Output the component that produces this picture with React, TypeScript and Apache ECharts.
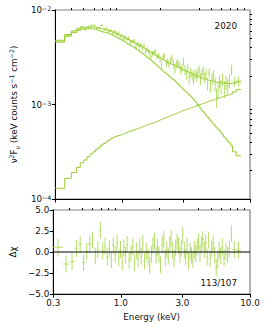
import React, { useEffect, useRef } from 'react';
import * as echarts from 'echarts';

// Energy bin edges (keV)
const binEdges = [0.30, 0.355, 0.40, 0.44, 0.47, 0.50, 0.53, 0.56, 0.59, 0.62, 0.65, 0.68, 0.71, 0.74, 0.77, 0.80, 0.83, 0.86, 0.89, 0.92, 0.95, 0.98, 1.01, 1.04, 1.07, 1.10, 1.14, 1.18, 1.22, 1.26, 1.30, 1.34, 1.38, 1.42, 1.46, 1.50, 1.55, 1.60, 1.65, 1.70, 1.75, 1.80, 1.85, 1.90, 1.95, 2.00, 2.06, 2.12, 2.18, 2.24, 2.30, 2.36, 2.42, 2.48, 2.55, 2.62, 2.69, 2.76, 2.83, 2.90, 2.98, 3.06, 3.14, 3.22, 3.30, 3.39, 3.48, 3.57, 3.66, 3.75, 3.85, 3.95, 4.05, 4.15, 4.26, 4.37, 4.48, 4.60, 4.72, 4.85, 4.98, 5.12, 5.26, 5.40, 5.55, 5.70, 5.85, 6.00, 6.20, 6.40, 6.60, 6.80, 7.05, 7.30, 7.80, 8.50];

// Models, nuF_nu in units of 1e-3 keV counts s^-1 cm^-2
const totalModel = [4.70, 5.50, 6.00, 6.30, 6.50, 6.57, 6.61, 6.61, 6.57, 6.50,
  6.40, 6.30, 6.20, 6.14, 6.05, 5.95, 5.85, 5.75, 5.63, 5.50,
  5.40, 5.30, 5.20, 5.08, 4.98, 4.88, 4.76, 4.66, 4.55, 4.45,
  4.35, 4.26, 4.15, 4.06, 3.98, 3.88, 3.78, 3.69, 3.60, 3.52,
  3.42, 3.34, 3.26, 3.19, 3.12, 3.06, 2.98, 2.91, 2.86, 2.80,
  2.75, 2.71, 2.66, 2.63, 2.59, 2.54, 2.48, 2.44, 2.40, 2.36,
  2.31, 2.28, 2.24, 2.21, 2.18, 2.15, 2.13, 2.09, 2.05, 2.02,
  1.98, 1.96, 1.93, 1.89, 1.87, 1.85, 1.83, 1.81, 1.80, 1.78,
  1.76, 1.75, 1.74, 1.72, 1.72, 1.71, 1.70, 1.69, 1.69, 1.68,
  1.67, 1.67, 1.67, 1.68, 1.73];

const bbModel = [4.57, 5.33, 5.81, 6.08, 6.26, 6.31, 6.33, 6.31, 6.25, 6.16,
  6.05, 5.93, 5.81, 5.74, 5.63, 5.52, 5.41, 5.30, 5.17, 5.03,
  4.92, 4.82, 4.71, 4.58, 4.48, 4.37, 4.24, 4.13, 4.01, 3.90,
  3.79, 3.69, 3.58, 3.48, 3.39, 3.28, 3.17, 3.07, 2.97, 2.88,
  2.77, 2.68, 2.59, 2.51, 2.43, 2.36, 2.27, 2.19, 2.13, 2.06,
  2.00, 1.95, 1.89, 1.84, 1.79, 1.73, 1.66, 1.61, 1.55, 1.50,
  1.44, 1.40, 1.35, 1.31, 1.27, 1.23, 1.19, 1.14, 1.09, 1.05,
  1.00, 0.96, 0.92, 0.87, 0.84, 0.80, 0.77, 0.742, 0.71, 0.68,
  0.65, 0.62, 0.60, 0.57, 0.55, 0.53, 0.505, 0.48, 0.455, 0.433,
  0.412, 0.394, 0.366, 0.316, 0.287];

const plModel = [0.130, 0.166, 0.191, 0.216, 0.242, 0.259, 0.280, 0.300, 0.316, 0.337,
  0.353, 0.373, 0.387, 0.401, 0.416, 0.431, 0.444, 0.452, 0.460, 0.469,
  0.476, 0.484, 0.490, 0.498, 0.505, 0.514, 0.523, 0.531, 0.541, 0.550,
  0.558, 0.566, 0.575, 0.583, 0.592, 0.601, 0.611, 0.622, 0.630, 0.638,
  0.646, 0.656, 0.666, 0.676, 0.686, 0.697, 0.707, 0.719, 0.730, 0.741,
  0.752, 0.763, 0.774, 0.785, 0.797, 0.809, 0.821, 0.833, 0.845, 0.858,
  0.868, 0.879, 0.890, 0.902, 0.913, 0.924, 0.936, 0.948, 0.960, 0.972,
  0.984, 0.996, 1.008, 1.021, 1.034, 1.046, 1.060, 1.070, 1.085, 1.100,
  1.110, 1.125, 1.140, 1.150, 1.170, 1.180, 1.195, 1.210, 1.230, 1.250,
  1.260, 1.280, 1.300, 1.360, 1.440];

// Fractional 1-sigma error of each data bin
const relErr = [0.03, 0.03, 0.03, 0.03, 0.03, 0.035, 0.035, 0.035, 0.035, 0.035,
  0.035, 0.035, 0.04, 0.04, 0.04, 0.04, 0.04, 0.04, 0.04, 0.04,
  0.045, 0.045, 0.045, 0.045, 0.045, 0.045, 0.045, 0.045, 0.055, 0.055,
  0.055, 0.055, 0.055, 0.055, 0.055, 0.055, 0.065, 0.065, 0.065, 0.065,
  0.065, 0.065, 0.065, 0.065, 0.08, 0.08, 0.08, 0.08, 0.08, 0.08,
  0.08, 0.08, 0.10, 0.10, 0.10, 0.10, 0.10, 0.10, 0.10, 0.10,
  0.12, 0.12, 0.12, 0.12, 0.12, 0.12, 0.12, 0.12, 0.12, 0.12,
  0.14, 0.14, 0.14, 0.14, 0.14, 0.14, 0.14, 0.14, 0.14, 0.14,
  0.16, 0.16, 0.16, 0.16, 0.16, 0.16, 0.16, 0.16, 0.18, 0.18,
  0.18, 0.18, 0.18, 0.13, 0.13];

// Residuals (delta chi)
const residuals = [0.56, -1.43, -1.15, 0.44, 0.92, -1.27, 0.04, 0.95, 1.43, -0.48,
  0.3, 2.6, 0.15, 0.71, -0.6, 0.4, -0.9, 0.8, -0.3, 1.1,
  -0.7, 0.3, -1.2, 0.5, -0.4, 0.9, -1.0, -0.2, 0.6, -1.3,
  0.2, -0.8, 0.7, -0.5, 1.0, -1.1, 0.1, -0.6, -1.6, -0.3,
  0.8, 1.3, -0.4, 0.6, -0.3, -1.5, 0.9, 1.5, -0.7, 0.3,
  -0.5, 0.9, 1.6, 0.2, -0.8, 0.5, 1.2, 0.8, -0.3, 0.4,
  2.0, 0.2, -0.6, 0.7, -1.1, 0.1, -0.4, -0.9, 0.3, -0.2,
  0.6, 1.2, -0.2, 0.9, 1.5, 0.3, 1.1, -0.6, 1.4, -0.8,
  0.4, 1.0, -0.3, -1.9, -1.0, 0.2, -0.5, 0.6, -0.7, 0.1,
  -0.3, 0.4, 2.2, 0.3, 0.2];

const xMajor = [0.3, 1, 3, 10];
const xMinor = [0.4, 0.5, 0.6, 0.7, 0.8, 0.9, 2, 4, 5, 6, 7, 8, 9];
const yMajorExp = [-4, -3, -2];
const yMinor = [2e-4, 3e-4, 4e-4, 5e-4, 6e-4, 7e-4, 8e-4, 9e-4, 2e-3, 3e-3, 4e-3, 5e-3, 6e-3, 7e-3, 8e-3, 9e-3];
const residTicks = [-5, -2.5, 0, 2.5, 5];

const FONT = 'DejaVu Sans';
const FS = 8.8;
const MODEL_COLOR = '#9acd32';
const DATA_COLOR = '#b6de68';
const TEXT = '#111';

export default function App() {
  const ref = useRef<HTMLDivElement>(null);
  useEffect(() => {
    const chart = echarts.init(ref.current!, null, { renderer: 'svg' });
    const lg = Math.log10;
    const xMin = lg(0.3);
    const xMax = 1;
    const nb = totalModel.length;

    const stepData = (vals: number[]) => {
      const pts = vals.map((v, i) => [lg(binEdges[i]), lg(v * 1e-3)]);
      pts.push([lg(binEdges[nb]), lg(vals[nb - 1] * 1e-3)]);
      return pts;
    };

    const dataRows: number[][] = [];
    const residRows: number[][] = [];
    for (let i = 0; i < nb; i++) {
      const lo = lg(binEdges[i]);
      const hi = lg(binEdges[i + 1]);
      const err = relErr[i] * totalModel[i];
      const d = totalModel[i] + residuals[i] * err;
      dataRows.push([lo, hi, lg(d * 1e-3), lg((d - err) * 1e-3), lg((d + err) * 1e-3)]);
      residRows.push([lo, hi, residuals[i], residuals[i] - 1, residuals[i] + 1]);
    }

    const barRender = (color: string) => (params: any, api: any) => {
      const lo = api.value(0), hi = api.value(1), y = api.value(2), y1 = api.value(3), y2 = api.value(4);
      const xm = (lo + hi) / 2;
      const a = api.coord([lo, y]);
      const b = api.coord([hi, y]);
      const c = api.coord([xm, y1]);
      const d = api.coord([xm, y2]);
      const style = { stroke: color, lineWidth: 1, fill: null };
      return {
        type: 'group',
        children: [
          { type: 'line', shape: { x1: a[0], y1: a[1], x2: b[0], y2: b[1] }, style },
          { type: 'line', shape: { x1: c[0], y1: c[1], x2: d[0], y2: d[1] }, style },
        ],
      };
    };

    const tickLine = { color: '#000', width: 1 };
    const labelBase = { fontFamily: FONT, fontSize: FS, color: TEXT };
    const supRich = {
      sup: { fontFamily: FONT, fontSize: 6.3, color: TEXT, verticalAlign: 'top', lineHeight: 7 },
      sub: { fontFamily: FONT, fontSize: 6.3, color: TEXT, verticalAlign: 'bottom', lineHeight: 7 },
    };

    const fmtX = (v: number) => {
      const e = xMajor.reduce((p, c) => (Math.abs(lg(c) - v) < Math.abs(lg(p) - v) ? c : p));
      return e.toFixed(1);
    };

    const xMajorAxis = (grid: number, labels: boolean) => ({
      gridIndex: grid,
      type: 'value',
      min: xMin,
      max: xMax,
      axisLine: { show: true, onZero: false, lineStyle: { color: '#000', width: 1 } },
      axisTick: { show: true, inside: false, length: 3.5, customValues: xMajor.map(lg), lineStyle: tickLine },
      axisLabel: labels
        ? { show: true, customValues: xMajor.map(lg), formatter: fmtX, margin: 4, ...labelBase, hideOverlap: false }
        : { show: false },
      splitLine: { show: false },
      ...(labels
        ? { name: 'Energy (keV)', nameLocation: 'middle', nameGap: 18, nameTextStyle: { ...labelBase } }
        : {}),
    });
    const xMinorAxis = (grid: number) => ({
      gridIndex: grid,
      type: 'value',
      min: xMin,
      max: xMax,
      axisLine: { show: false, onZero: false },
      axisTick: { show: true, inside: false, length: 2, customValues: xMinor.map(lg), lineStyle: tickLine },
      axisLabel: { show: false },
      splitLine: { show: false },
    });

    const option: any = {
      animation: false,
      backgroundColor: '#fff',
      grid: [
        { left: 48, top: 10, width: 202, height: 189, show: true, borderColor: '#808080', borderWidth: 1.2 },
        { left: 48, top: 210, width: 202, height: 84, show: true, borderColor: '#808080', borderWidth: 1.2 },
      ],
      xAxis: [xMajorAxis(0, false), xMinorAxis(0), xMajorAxis(1, true), xMinorAxis(1)],
      yAxis: [
        {
          gridIndex: 0,
          type: 'value',
          min: -4,
          max: -2,
          interval: 1,
          axisLine: { show: true, onZero: false, lineStyle: { color: '#000', width: 1 } },
          axisTick: { show: true, inside: false, length: 3.5, customValues: yMajorExp, lineStyle: tickLine },
          axisLabel: {
            show: true,
            customValues: yMajorExp,
            margin: 4,
            ...labelBase,
            formatter: (v: number) => `10{sup|−${Math.round(Math.abs(v))}}`,
            rich: supRich,
          },
          splitLine: { show: false },
          name: 'ν{sup|2}F{sub|ν} (keV counts s{sup|−1} cm{sup|−2})',
          nameLocation: 'middle',
          nameRotate: 90,
          nameGap: 30,
          nameTextStyle: { ...labelBase, lineHeight: 12, rich: supRich },
        },
        {
          gridIndex: 0,
          type: 'value',
          min: -4,
          max: -2,
          axisLine: { show: false, onZero: false },
          axisTick: { show: true, inside: false, length: 2, customValues: yMinor.map(lg), lineStyle: tickLine },
          axisLabel: { show: false },
          splitLine: { show: false },
        },
        {
          gridIndex: 1,
          type: 'value',
          min: -5,
          max: 5,
          interval: 2.5,
          axisLine: { show: true, onZero: false, lineStyle: { color: '#000', width: 1 } },
          axisTick: { show: true, inside: false, length: 3.5, customValues: residTicks, lineStyle: tickLine },
          axisLabel: {
            show: true,
            customValues: residTicks,
            margin: 4,
            ...labelBase,
            formatter: (v: number) => v.toFixed(1).replace('-', '−'),
          },
          splitLine: { show: false },
          name: 'Δχ',
          nameLocation: 'middle',
          nameRotate: 90,
          nameGap: 31,
          nameTextStyle: { ...labelBase },
        },
      ],
      series: [
        {
          type: 'custom',
          name: 'data',
          xAxisIndex: 0,
          yAxisIndex: 0,
          renderItem: barRender(DATA_COLOR),
          encode: { x: [0, 1], y: [2, 3, 4] },
          data: dataRows,
          clip: true,
          z: 1,
        },
        {
          type: 'line',
          name: 'total',
          xAxisIndex: 0,
          yAxisIndex: 0,
          step: 'end',
          showSymbol: false,
          symbol: 'none',
          lineStyle: { color: MODEL_COLOR, width: 1 },
          data: stepData(totalModel),
          z: 3,
        },
        {
          type: 'line',
          name: 'bb',
          xAxisIndex: 0,
          yAxisIndex: 0,
          step: 'end',
          showSymbol: false,
          symbol: 'none',
          lineStyle: { color: MODEL_COLOR, width: 1 },
          data: stepData(bbModel),
          z: 3,
        },
        {
          type: 'line',
          name: 'powerlaw',
          xAxisIndex: 0,
          yAxisIndex: 0,
          step: 'end',
          showSymbol: false,
          symbol: 'none',
          lineStyle: { color: MODEL_COLOR, width: 1 },
          data: stepData(plModel),
          z: 3,
        },
        {
          type: 'custom',
          name: 'residuals',
          xAxisIndex: 2,
          yAxisIndex: 2,
          renderItem: barRender(DATA_COLOR),
          encode: { x: [0, 1], y: [2, 3, 4] },
          data: residRows,
          clip: true,
          z: 1,
        },
        {
          type: 'line',
          name: 'zero',
          xAxisIndex: 2,
          yAxisIndex: 2,
          showSymbol: false,
          symbol: 'none',
          lineStyle: { color: '#000', width: 1 },
          data: [[xMin, 0], [xMax, 0]],
          z: 4,
        },
      ],
      graphic: [
        {
          type: 'text',
          x: 237,
          y: 25.5,
          style: { text: '2020', fontFamily: FONT, fontSize: FS, fill: TEXT, align: 'right', verticalAlign: 'middle' },
        },
        {
          type: 'text',
          x: 237,
          y: 282.5,
          style: { text: '113/107', fontFamily: FONT, fontSize: FS, fill: TEXT, align: 'right', verticalAlign: 'middle' },
        },
      ],
    };
    chart.setOption(option);
    return () => chart.dispose();
  }, []);
  return (
    <div
      ref={ref}
      style={{ position: 'fixed', left: 0, top: 0, width: 266, height: 327, background: '#fff' }}
    />
  );
}
